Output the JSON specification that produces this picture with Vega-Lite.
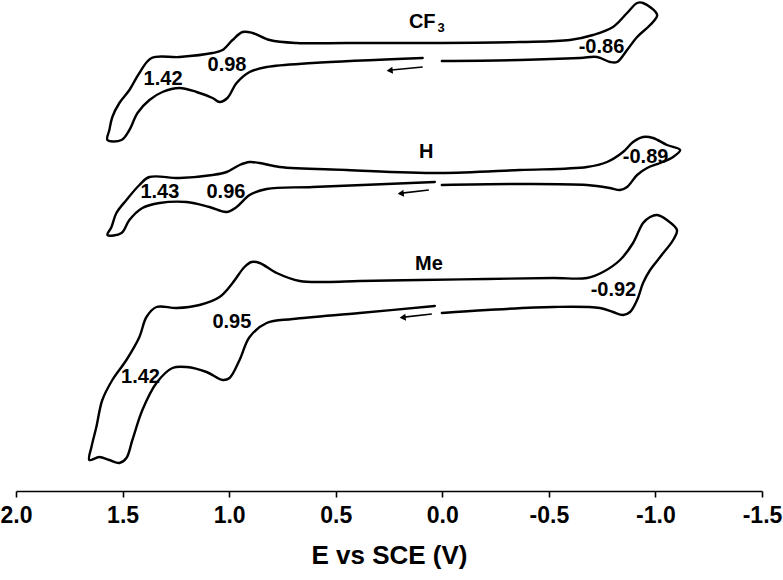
{
  "$schema": "https://vega.github.io/schema/vega-lite/v6.json",
  "width": 746,
  "height": 491,
  "autosize": {"type": "none"},
  "padding": {"left": 16, "top": 0, "right": 21, "bottom": 89},
  "background": "white",
  "config": {"view": {"stroke": null}},
  "datasets": {
    "cv": [
      {"c":"CF3","i":1,"E":0.002,"I":430},{"c":"CF3","i":2,"E":-0.364,"I":431},{"c":"CF3","i":3,"E":-0.646,"I":433},{"c":"CF3","i":4,"E":-0.726,"I":434},{"c":"CF3","i":5,"E":-0.787,"I":429},{"c":"CF3","i":6,"E":-0.82,"I":429},{"c":"CF3","i":7,"E":-0.867,"I":441},{"c":"CF3","i":8,"E":-0.914,"I":454},{"c":"CF3","i":9,"E":-0.975,"I":466},{"c":"CF3","i":10,"E":-1.008,"I":476},{"c":"CF3","i":11,"E":-0.942,"I":488},{"c":"CF3","i":12,"E":-0.914,"I":488},{"c":"CF3","i":13,"E":-0.867,"I":478},{"c":"CF3","i":14,"E":-0.801,"I":464},{"c":"CF3","i":15,"E":-0.707,"I":456},{"c":"CF3","i":16,"E":-0.599,"I":451},{"c":"CF3","i":17,"E":-0.364,"I":449},{"c":"CF3","i":18,"E":0.106,"I":448},{"c":"CF3","i":19,"E":0.449,"I":448},{"c":"CF3","i":20,"E":0.683,"I":448},{"c":"CF3","i":21,"E":0.81,"I":451},{"c":"CF3","i":22,"E":0.89,"I":458},{"c":"CF3","i":23,"E":0.937,"I":459},{"c":"CF3","i":24,"E":0.984,"I":451},{"c":"CF3","i":25,"E":1.031,"I":441},{"c":"CF3","i":26,"E":1.078,"I":438},{"c":"CF3","i":27,"E":1.233,"I":434},{"c":"CF3","i":28,"E":1.364,"I":433},{"c":"CF3","i":29,"E":1.421,"I":418},{"c":"CF3","i":30,"E":1.468,"I":401},{"c":"CF3","i":31,"E":1.515,"I":388},{"c":"CF3","i":32,"E":1.548,"I":374},{"c":"CF3","i":33,"E":1.562,"I":361},{"c":"CF3","i":34,"E":1.571,"I":351},{"c":"CF3","i":35,"E":1.505,"I":351},{"c":"CF3","i":36,"E":1.468,"I":361},{"c":"CF3","i":37,"E":1.43,"I":378},{"c":"CF3","i":38,"E":1.374,"I":391},{"c":"CF3","i":39,"E":1.313,"I":399},{"c":"CF3","i":40,"E":1.233,"I":403},{"c":"CF3","i":41,"E":1.153,"I":399},{"c":"CF3","i":42,"E":1.078,"I":393},{"c":"CF3","i":43,"E":1.045,"I":389},{"c":"CF3","i":44,"E":1.008,"I":393},{"c":"CF3","i":45,"E":0.965,"I":408},{"c":"CF3","i":46,"E":0.904,"I":419},{"c":"CF3","i":47,"E":0.824,"I":424},{"c":"CF3","i":48,"E":0.608,"I":428},{"c":"CF3","i":49,"E":0.092,"I":433},
      {"c":"H","i":1,"E":0.002,"I":306},{"c":"H","i":2,"E":-0.364,"I":307},{"c":"H","i":3,"E":-0.679,"I":306},{"c":"H","i":4,"E":-0.787,"I":303},{"c":"H","i":5,"E":-0.834,"I":301},{"c":"H","i":6,"E":-0.867,"I":304},{"c":"H","i":7,"E":-0.914,"I":316},{"c":"H","i":8,"E":-0.961,"I":323},{"c":"H","i":9,"E":-1.022,"I":328},{"c":"H","i":10,"E":-1.083,"I":334},{"c":"H","i":11,"E":-1.116,"I":341},{"c":"H","i":12,"E":-1.054,"I":346},{"c":"H","i":13,"E":-0.989,"I":353},{"c":"H","i":14,"E":-0.942,"I":354},{"c":"H","i":15,"E":-0.895,"I":349},{"c":"H","i":16,"E":-0.848,"I":339},{"c":"H","i":17,"E":-0.773,"I":329},{"c":"H","i":18,"E":-0.679,"I":324},{"c":"H","i":19,"E":-0.364,"I":321},{"c":"H","i":20,"E":0.012,"I":318},{"c":"H","i":21,"E":0.449,"I":321},{"c":"H","i":22,"E":0.763,"I":324},{"c":"H","i":23,"E":0.857,"I":328},{"c":"H","i":24,"E":0.904,"I":329},{"c":"H","i":25,"E":0.951,"I":326},{"c":"H","i":26,"E":1.012,"I":319},{"c":"H","i":27,"E":1.078,"I":316},{"c":"H","i":28,"E":1.233,"I":313},{"c":"H","i":29,"E":1.374,"I":314},{"c":"H","i":30,"E":1.421,"I":306},{"c":"H","i":31,"E":1.482,"I":291},{"c":"H","i":32,"E":1.529,"I":278},{"c":"H","i":33,"E":1.552,"I":264},{"c":"H","i":34,"E":1.571,"I":256},{"c":"H","i":35,"E":1.505,"I":258},{"c":"H","i":36,"E":1.468,"I":271},{"c":"H","i":37,"E":1.407,"I":283},{"c":"H","i":38,"E":1.327,"I":288},{"c":"H","i":39,"E":1.2,"I":289},{"c":"H","i":40,"E":1.092,"I":284},{"c":"H","i":41,"E":1.012,"I":279},{"c":"H","i":42,"E":0.965,"I":284},{"c":"H","i":43,"E":0.904,"I":296},{"c":"H","i":44,"E":0.824,"I":302},{"c":"H","i":45,"E":0.608,"I":304},{"c":"H","i":46,"E":0.035,"I":309},
      {"c":"Me","i":1,"E":0.002,"I":178},{"c":"Me","i":2,"E":-0.209,"I":181},{"c":"Me","i":3,"E":-0.519,"I":184},{"c":"Me","i":4,"E":-0.74,"I":183},{"c":"Me","i":5,"E":-0.801,"I":179},{"c":"Me","i":6,"E":-0.848,"I":176},{"c":"Me","i":7,"E":-0.881,"I":179},{"c":"Me","i":8,"E":-0.914,"I":191},{"c":"Me","i":9,"E":-0.942,"I":208},{"c":"Me","i":10,"E":-0.975,"I":221},{"c":"Me","i":11,"E":-1.022,"I":234},{"c":"Me","i":12,"E":-1.083,"I":251},{"c":"Me","i":13,"E":-1.101,"I":261},{"c":"Me","i":14,"E":-1.054,"I":271},{"c":"Me","i":15,"E":-1.008,"I":276},{"c":"Me","i":16,"E":-0.975,"I":274},{"c":"Me","i":17,"E":-0.942,"I":268},{"c":"Me","i":18,"E":-0.895,"I":248},{"c":"Me","i":19,"E":-0.834,"I":231},{"c":"Me","i":20,"E":-0.754,"I":219},{"c":"Me","i":21,"E":-0.679,"I":213},{"c":"Me","i":22,"E":-0.519,"I":213},{"c":"Me","i":23,"E":-0.209,"I":212},{"c":"Me","i":24,"E":0.106,"I":211},{"c":"Me","i":25,"E":0.388,"I":210},{"c":"Me","i":26,"E":0.543,"I":209},{"c":"Me","i":27,"E":0.669,"I":210},{"c":"Me","i":28,"E":0.777,"I":218},{"c":"Me","i":29,"E":0.857,"I":228},{"c":"Me","i":30,"E":0.895,"I":229},{"c":"Me","i":31,"E":0.928,"I":224},{"c":"Me","i":32,"E":0.984,"I":208},{"c":"Me","i":33,"E":1.045,"I":194},{"c":"Me","i":34,"E":1.139,"I":186},{"c":"Me","i":35,"E":1.247,"I":183},{"c":"Me","i":36,"E":1.341,"I":184},{"c":"Me","i":37,"E":1.388,"I":174},{"c":"Me","i":38,"E":1.421,"I":154},{"c":"Me","i":39,"E":1.482,"I":131},{"c":"Me","i":40,"E":1.548,"I":111},{"c":"Me","i":41,"E":1.595,"I":91},{"c":"Me","i":42,"E":1.623,"I":64},{"c":"Me","i":43,"E":1.646,"I":44},{"c":"Me","i":44,"E":1.656,"I":31},{"c":"Me","i":45,"E":1.609,"I":34},{"c":"Me","i":46,"E":1.562,"I":31},{"c":"Me","i":47,"E":1.515,"I":28},{"c":"Me","i":48,"E":1.482,"I":33},{"c":"Me","i":49,"E":1.454,"I":51},{"c":"Me","i":50,"E":1.407,"I":81},{"c":"Me","i":51,"E":1.341,"I":108},{"c":"Me","i":52,"E":1.266,"I":123},{"c":"Me","i":53,"E":1.2,"I":124},{"c":"Me","i":54,"E":1.106,"I":119},{"c":"Me","i":55,"E":1.031,"I":111},{"c":"Me","i":56,"E":0.998,"I":113},{"c":"Me","i":57,"E":0.951,"I":131},{"c":"Me","i":58,"E":0.904,"I":154},{"c":"Me","i":59,"E":0.824,"I":168},{"c":"Me","i":60,"E":0.702,"I":172},{"c":"Me","i":61,"E":0.388,"I":178},{"c":"Me","i":62,"E":0.035,"I":185}
    ],
    "arrows": [
      {"a":"CF3","i":1,"E":0.092,"I":424},{"a":"CF3","i":2,"E":0.25,"I":420.7},
      {"a":"H","i":1,"E":0.063,"I":301},{"a":"H","i":2,"E":0.2,"I":297.6},
      {"a":"Me","i":1,"E":0.049,"I":177},{"a":"Me","i":2,"E":0.19,"I":173.6}
    ],
    "heads": [
      {"a":"CF3","E":0.247,"I":420.5},
      {"a":"H","E":0.195,"I":297.5},
      {"a":"Me","E":0.186,"I":173.5}
    ],
    "labels": [
      {"t":"CF","E":0.094,"I":469.5},
      {"t":"H","E":0.075,"I":339.5},
      {"t":"Me","E":0.063,"I":227.5},
      {"t":"1.42","E":1.31,"I":412.5},
      {"t":"0.98","E":1.01,"I":426},
      {"t":"-0.86","E":-0.747,"I":444.5},
      {"t":"1.43","E":1.325,"I":299.5},
      {"t":"0.96","E":1.015,"I":299.5},
      {"t":"-0.89","E":-0.954,"I":334.5},
      {"t":"0.95","E":0.987,"I":169.5},
      {"t":"1.42","E":1.416,"I":114.5},
      {"t":"-0.92","E":-0.803,"I":201.5}
    ],
    "subs": [
      {"t":"3","E":0.006,"I":463}
    ]
  },
  "encoding": {
    "x": {
      "field": "E", "type": "quantitative",
      "scale": {"domain": [-1.5, 2.0], "reverse": true, "nice": false, "zero": false},
      "axis": {
        "values": [2, 1.5, 1, 0.5, 0, -0.5, -1, -1.5],
        "format": ".1f",
        "labelExpr": "replace(datum.label, '−', '-')",
        "grid": false,
        "domainColor": "black", "domainWidth": 1.6,
        "tickColor": "black", "tickWidth": 1.6, "tickSize": 6,
        "labelFont": "Liberation Sans", "labelFontSize": 23, "labelFontWeight": "bold", "labelColor": "black",
        "labelPadding": 7, "labelFlush": false, "labelOverlap": false,
        "title": "E vs SCE (V)",
        "titleFont": "Liberation Sans", "titleFontSize": 26, "titleFontWeight": "bold", "titleColor": "black",
        "titlePadding": 15
      }
    },
    "y": {
      "field": "I", "type": "quantitative",
      "scale": {"domain": [0, 491], "nice": false, "zero": false},
      "axis": null
    }
  },
  "layer": [
    {
      "data": {"name": "cv"},
      "mark": {"type": "line", "color": "black", "strokeWidth": 2.4, "interpolate": "catmull-rom", "strokeJoin": "round", "strokeCap": "round"},
      "encoding": {"detail": {"field": "c"}, "order": {"field": "i", "type": "quantitative"}}
    },
    {
      "data": {"name": "arrows"},
      "mark": {"type": "line", "color": "black", "strokeWidth": 1.6},
      "encoding": {"detail": {"field": "a"}, "order": {"field": "i", "type": "quantitative"}}
    },
    {
      "data": {"name": "heads"},
      "mark": {"type": "point", "shape": "triangle-left", "filled": true, "color": "black", "size": 50, "opacity": 1, "angle": -6}
    },
    {
      "data": {"name": "labels"},
      "mark": {"type": "text", "font": "Liberation Sans", "fontSize": 20, "fontWeight": "bold", "color": "black", "align": "center", "baseline": "middle"},
      "encoding": {"text": {"field": "t"}}
    },
    {
      "data": {"name": "subs"},
      "mark": {"type": "text", "font": "Liberation Sans", "fontSize": 13, "fontWeight": "bold", "color": "black", "align": "center", "baseline": "middle"},
      "encoding": {"text": {"field": "t"}}
    }
  ]
}
